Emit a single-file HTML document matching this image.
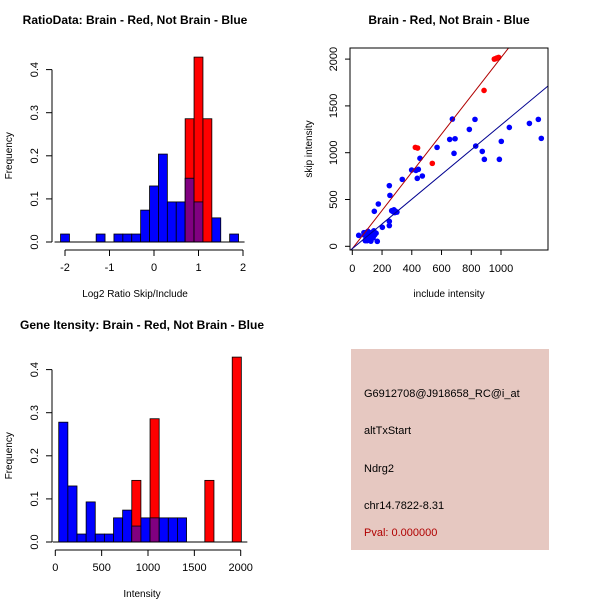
<!DOCTYPE html>
<html><head><meta charset="utf-8"><style>
html,body{margin:0;padding:0;background:#fff;}
svg{display:block;font-family:"Liberation Sans",sans-serif;}
</style></head><body>
<svg id="chart" width="600" height="600" viewBox="0 0 600 600">
<rect x="0" y="0" width="600" height="600" fill="#fff"/>
<g id="p1"></g>
<g id="p2"></g>
<g id="p3"></g>
<g id="p4">
<rect x="351" y="349" width="198" height="201" fill="#E6C8C1"/>
<text x="364" y="397" font-size="11" fill="#000">G6912708@J918658_RC@i_at</text>
<text x="364" y="434" font-size="11" fill="#000">altTxStart</text>
<text x="364" y="472" font-size="11" fill="#000">Ndrg2</text>
<text x="364" y="509" font-size="11" fill="#000">chr14.7822-8.31</text>
<text x="364" y="536" font-size="11" fill="#B00000">Pval: 0.000000</text>
</g>
</svg>
<script>
// ---- Ratio histogram data ----
const ratioBinStart = -2.1;
const ratioBinWidth = 0.2;
const ratioBlue = [0.0185,0,0,0,0.0185,0,0.0185,0.0185,0.0185,0.074,0.13,0.204,0.093,0.093,0.148,0.093,0,0.056,0,0.0185];
const ratioRed  = [0,0,0,0,0,0,0,0,0,0,0,0,0,0,0.286,0.429,0.286,0,0,0];
const ratioXTicks = [-2,-1,0,1,2];
const freqTicks = [0.0,0.1,0.2,0.3,0.4];
const freqTickLabels = ["0.0","0.1","0.2","0.3","0.4"];
// ---- Intensity histogram data ----
const intBinStart = 37;
const intBinWidth = 98.5;
const intBlue = [0.278,0.13,0.0185,0.093,0.0185,0.0185,0.056,0.074,0.037,0.056,0.056,0.056,0.056,0.056,0,0,0,0,0,0];
const intRed  = [0,0,0,0,0,0,0,0,0.143,0,0.286,0,0,0,0,0,0.143,0,0,0.429];
const intXTicks = [0,500,1000,1500,2000];
// ---- Scatter data ----
const redX = [955,971,984,965,886,424,439,538];
const redY = [2000,2011,2018,2005,1665,1057,1050,886];
const blueX = [43,78,87,80,90,100,105,110,115,120,125,130,135,140,145,150,100,160,90,168,202,148,175,249,253,249,249,265,275,280,290,300,285,336,399,428,444,455,437,471,570,655,673,691,684,787,825,830,874,888,989,1002,1056,1191,1251,1271];
const blueY = [117,146,60,120,145,100,160,130,80,140,55,110,150,90,165,120,60,140,70,53,203,374,452,648,544,267,221,380,370,390,375,365,360,715,815,811,822,940,726,751,1057,1142,1359,1149,993,1249,1356,1071,1014,929,929,1121,1270,1313,1356,1153];
const redFit = [-25, 2.04];
const blueFit = [-25, 1.32];
const scXTicks = [0,200,400,600,800,1000];
const scYTicks = [0,500,1000,1500,2000];

const NS="http://www.w3.org/2000/svg";
function mk(parent,tag,attrs,text){const e=document.createElementNS(NS,tag);for(const k in attrs)e.setAttribute(k,attrs[k]);if(text!==undefined)e.textContent=text;parent.appendChild(e);return e;}

function histPanel(g,title,xlabel,binStart,binW,blue,red,xTicks,xs,ys,xAxisY,titleY){
  const t=mk(g,'text',{x:xs.titleX,y:titleY,'font-size':12,'font-weight':'bold','text-anchor':'middle'},title);
  
  
  for(let i=0;i<blue.length;i++){
    const x0=xs(binStart+i*binW),x1=xs(binStart+(i+1)*binW);
    if(red[i]>0){
      const r=mk(g,'rect',{x:x0,y:ys(red[i]),width:x1-x0,height:ys(0)-ys(red[i]),fill:'#FF0000',stroke:'#000','stroke-width':0.8});
      
      
    }
    if(blue[i]>0){
      const b=mk(g,'rect',{x:x0,y:ys(blue[i]),width:x1-x0,height:ys(0)-ys(blue[i]),fill:red[i]>0?'#800080':'#0000FF',stroke:'#000','stroke-width':0.8});
      
      
    }
  }
  const bl=mk(g,'line',{x1:xs(binStart)-6,x2:xs(binStart+blue.length*binW)+6,y1:ys(0),y2:ys(0),stroke:'#000'});
  
  
  const ya=mk(g,'g',{});
  
  
  mk(ya,'line',{x1:52,x2:52,y1:ys(0),y2:ys(0.4),stroke:'#000'});
  freqTicks.forEach((v,i)=>{
    mk(ya,'line',{x1:46,x2:52,y1:ys(v),y2:ys(v),stroke:'#000'});
    const tl=mk(ya,'text',{x:38,y:ys(v),'font-size':11,'text-anchor':'middle',transform:`rotate(-90 38 ${ys(v)})`},freqTickLabels[i]);
    
    
  });
  const yt=mk(g,'text',{x:12,y:(ys(0)+ys(0.4))/2,'font-size':10,'text-anchor':'middle',transform:`rotate(-90 12 ${(ys(0)+ys(0.4))/2})`},'Frequency');
  
  
  const xa=mk(g,'g',{});
  
  
  mk(xa,'line',{x1:xs(xTicks[0]),x2:xs(xTicks[xTicks.length-1]),y1:xAxisY,y2:xAxisY,stroke:'#000'});
  xTicks.forEach(v=>{
    mk(xa,'line',{x1:xs(v),x2:xs(v),y1:xAxisY,y2:xAxisY+6,stroke:'#000'});
    const tl=mk(xa,'text',{x:xs(v),y:xAxisY+21,'font-size':11,'text-anchor':'middle'},String(v));
    
    
  });
  const xt=mk(g,'text',{x:xs.titleX,y:xAxisY+47,'font-size':10,'text-anchor':'middle'},xlabel);
  
  
}

(function(){
  const xs=v=>65+(v+2)*44.5; xs.titleX=135;
  const ys=v=>242-v*431;
  histPanel(document.getElementById('p1'),'RatioData: Brain - Red, Not Brain - Blue','Log2 Ratio Skip/Include',ratioBinStart,ratioBinWidth,ratioBlue,ratioRed,ratioXTicks,xs,ys,250,24);
})();
(function(){
  const xs=v=>55.3+v*0.0927; xs.titleX=142;
  const ys=v=>542-v*431;
  histPanel(document.getElementById('p3'),'Gene Itensity: Brain - Red, Not Brain - Blue','Intensity',intBinStart,intBinWidth,intBlue,intRed,intXTicks,xs,ys,550,329);
})();
(function(){
  const g=document.getElementById('p2');
  const xs=v=>352.3+v*0.1487, ys=v=>246.3-v*0.0936;
  const L=350,R=548,T=48,B=250;
  const t=mk(g,'text',{x:449,y:24,'font-size':12,'font-weight':'bold','text-anchor':'middle'},'Brain - Red, Not Brain - Blue');
  
  
  const clip=mk(g,'clipPath',{id:'sc'});mk(clip,'rect',{x:L,y:T,width:R-L,height:B-T});
  const pts=mk(g,'g',{'clip-path':'url(#sc)'});
  function fit(f,color,name){
    const x0=-50,x1=1400;
    const l=mk(pts,'line',{x1:xs(x0),y1:ys(f[0]+f[1]*x0),x2:xs(x1),y2:ys(f[0]+f[1]*x1),stroke:color,'stroke-width':1});
    
    
  }
  blueX.forEach((x,i)=>{
    const c=mk(pts,'circle',{cx:xs(x),cy:ys(blueY[i]),r:2.8,fill:'#0000FF'});
    
    
  });
  redX.forEach((x,i)=>{
    const c=mk(pts,'circle',{cx:xs(x),cy:ys(redY[i]),r:2.8,fill:'#FF0000'});
    
    
  });
  fit(redFit,'#B00000','red-fit-line');
  fit(blueFit,'#000090','blue-fit-line');
  const box=mk(g,'rect',{x:L,y:T,width:R-L,height:B-T,fill:'none',stroke:'#000'});
  
  
  const xa=mk(g,'g',{});
  
  
  scXTicks.forEach(v=>{
    mk(xa,'line',{x1:xs(v),x2:xs(v),y1:B,y2:B+5,stroke:'#000'});
    const tl=mk(xa,'text',{x:xs(v),y:B+22,'font-size':11,'text-anchor':'middle'},String(v));
    
    
  });
  const ya=mk(g,'g',{});
  
  
  scYTicks.forEach(v=>{
    mk(ya,'line',{x1:L-5,x2:L,y1:ys(v),y2:ys(v),stroke:'#000'});
    const tl=mk(ya,'text',{x:337,y:ys(v),'font-size':11,'text-anchor':'middle',transform:`rotate(-90 337 ${ys(v)})`},String(v));
    
    
  });
  const xt=mk(g,'text',{x:449,y:297,'font-size':10,'text-anchor':'middle'},'include intensity');
  
  
  const yt=mk(g,'text',{x:312,y:149,'font-size':10,'text-anchor':'middle',transform:'rotate(-90 312 149)'},'skip intensity');
  
  
})();
</script>
</body></html>
